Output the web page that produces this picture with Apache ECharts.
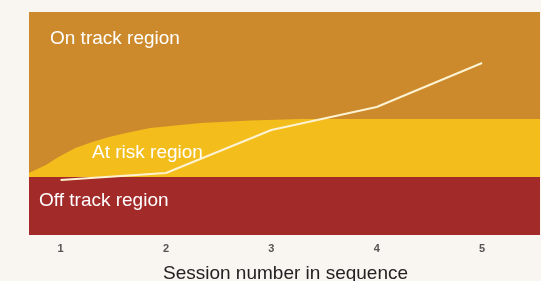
<!DOCTYPE html>
<html>
<head>
<meta charset="utf-8">
<script src="https://cdn.jsdelivr.net/npm/echarts@6/dist/echarts.min.js"></script>
<style>
  html, body { margin: 0; padding: 0; background: #f9f5f1; }
  #chart { width: 541px; height: 281px; }
</style>
</head>
<body>
<div id="chart"></div>
<script>
'use strict';

// sessions shown on the x axis
var sessions = [1, 2, 3, 4, 5];
// student score per session
var studentScores = [55, 62, 105, 128, 172];

// region boundaries (x in session units, y in score units)
var onTrackTop = [[0.7, 223], [5.55, 223]];
var atRiskTop = [
    [0.7, 62], [0.86, 70], [0.98, 78], [1.14, 87], [1.3, 93], [1.46, 98],
    [1.62, 102], [1.85, 107], [2.33, 112], [2.8, 114.5], [3.28, 116], [5.55, 116]
];
var offTrackTop = [[0.7, 58], [5.55, 58]];

var regionLabels = ['On track region', 'At risk region', 'Off track region'];
var axisTitle = 'Session number in sequence';

var chart = echarts.init(document.getElementById('chart'));

function region(data, color) {
    return {
        type: 'line',
        data: data,
        symbol: 'none',
        lineStyle: {width: 0},
        areaStyle: {color: color, opacity: 1},
        silent: true
    };
}

function label(text, left, top) {
    return {
        type: 'text',
        left: left,
        top: top,
        z: 100,
        style: {
            text: text,
            fill: '#ffffff',
            fontSize: 19,
            fontFamily: 'Liberation Sans, Arial, sans-serif'
        }
    };
}

chart.setOption({
    backgroundColor: '#f9f5f1',
    animation: false,
    grid: {
        left: 29,
        right: 1,
        top: 12,
        bottom: 46
    },
    xAxis: {
        type: 'value',
        min: 0.7,
        max: 5.55,
        axisLine: {show: false},
        axisTick: {show: false},
        splitLine: {show: false},
        axisLabel: {
            customValues: sessions,
            color: '#555',
            fontSize: 11,
            fontWeight: 'bold',
            margin: 8,
            fontFamily: 'Liberation Sans, Arial, sans-serif'
        }
    },
    yAxis: {
        type: 'value',
        min: 0,
        max: 223,
        show: false
    },
    series: [
        region(onTrackTop, '#cc8a2c'),
        region(atRiskTop, '#f3bd1c'),
        region(offTrackTop, '#a22b29'),
        {
            type: 'line',
            data: sessions.map(function(s, i) { return [s, studentScores[i]]; }),
            symbol: 'none',
            z: 5,
            lineStyle: {color: '#fdf2d2', width: 2}
        }
    ],
    graphic: [
        label(regionLabels[0], 50, 29),
        label(regionLabels[1], 92, 143),
        label(regionLabels[2], 39, 191),
        {
            type: 'text',
            left: 163,
            top: 264,
            z: 100,
            style: {
                text: axisTitle,
                fill: '#222',
                fontSize: 19,
                fontFamily: 'Liberation Sans, Arial, sans-serif'
            }
        }
    ]
});
</script>
</body>
</html>
